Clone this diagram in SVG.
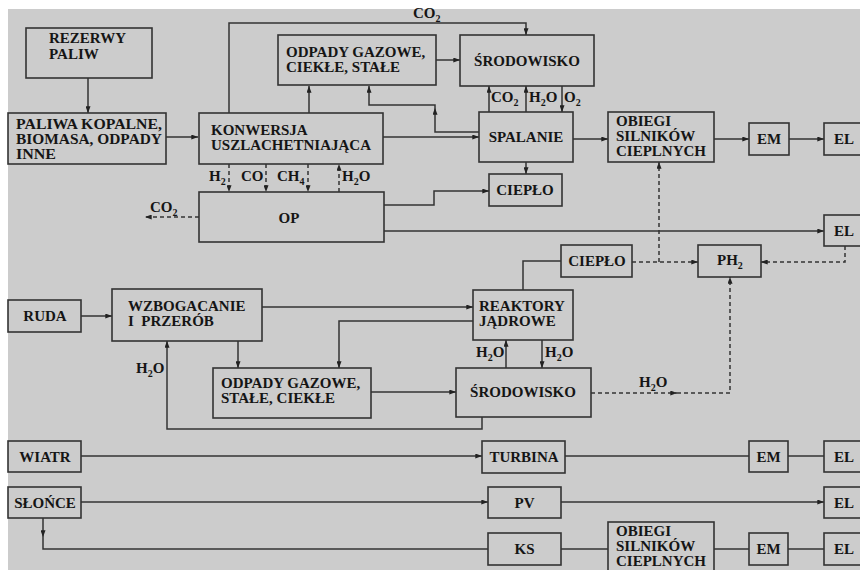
<svg xmlns="http://www.w3.org/2000/svg" width="860" height="570" viewBox="0 0 860 570">
<style>
.bx{fill:#cccccc;stroke:#333;stroke-width:1.6}
.t{font-family:"Liberation Serif","Times New Roman",serif;font-weight:bold;font-size:15px;fill:#151515}
.s{font-size:14px}
.m{text-anchor:middle}
.ln{fill:none;stroke:#333;stroke-width:1.5}
.ds{stroke-dasharray:4 3}
.a{marker-end:url(#ah)}
</style>
<defs>
<marker id="ah" viewBox="0 0 8 6" refX="8" refY="3" markerWidth="7" markerHeight="5" markerUnits="userSpaceOnUse" orient="auto">
<path d="M0,0 L8,3 L0,6 Z" fill="#222"/>
</marker>
</defs>
<rect x="0" y="0" width="860" height="570" fill="#ffffff"/>
<rect x="8" y="9" width="852" height="561" fill="#cccccc"/>

<g id="connectors">
<path class="ln a" d="M88,78 V113"/>
<path class="ln a" d="M166,137 H198"/>
<path class="ln a" d="M229,113 V23 H526 V35"/>
<path class="ln a" d="M309,113 V86"/>
<path class="ln a" d="M436,60 H460"/>
<path class="ln a" d="M383,137 H479"/>
<path class="ln a" d="M479,132 H435 V108"/>
<path class="ln a" d="M435,108 V105 H369 V86"/>
<path class="ln a" d="M489,112 V86"/>
<path class="ln a" d="M526,112 V86"/>
<path class="ln a" d="M562,86 V112"/>
<path class="ln a" d="M526,162 V174"/>
<path class="ln a" d="M573,139 H608"/>
<path class="ln a" d="M714,139 H749"/>
<path class="ln a" d="M789,139 H824"/>
<path class="ln ds a" d="M229,164 V192"/>
<path class="ln ds a" d="M266,164 V192"/>
<path class="ln ds a" d="M308,164 V192"/>
<path class="ln ds a" d="M339,192 V164"/>
<path class="ln ds a" d="M199,217 H145"/>
<path class="ln a" d="M384,205 H434 V191 H489"/>
<path class="ln a" d="M384,231 H824"/>
<path class="ln ds a" d="M632,262 H698"/>
<path class="ln ds a" d="M659,262 V162"/>
<path class="ln ds a" d="M845,246 V262 H761"/>
<path class="ln ds a" d="M591,393 H677"/>
<path class="ln ds a" d="M677,393 H730 V277"/>
<path class="ln" d="M523,290 V261 H561"/>
<path class="ln a" d="M81,316 H112"/>
<path class="ln a" d="M262,307 H473"/>
<path class="ln a" d="M238,341 V368"/>
<path class="ln a" d="M473,321 H339 V368"/>
<path class="ln a" d="M371,392 H456"/>
<path class="ln a" d="M506,368 V340"/>
<path class="ln a" d="M542,340 V368"/>
<path class="ln a" d="M482,417 V429 H167 V341"/>
<path class="ln a" d="M81,456 H482"/>
<path class="ln" d="M565,456 H749"/>
<path class="ln" d="M788,456 H824"/>
<path class="ln a" d="M81,502 H488"/>
<path class="ln a" d="M561,502 H824"/>
<path class="ln a" d="M43,518 V537"/>
<path class="ln" d="M43,537 V549 H488"/>
<path class="ln" d="M561,549 H608"/>
<path class="ln" d="M714,549 H749"/>
<path class="ln" d="M788,549 H824"/>
</g>

<g id="labels">
<text class="t" x="413" y="18">CO<tspan font-size="10" dy="4">2</tspan></text>
<text class="t" x="491" y="102">CO<tspan font-size="10" dy="4">2</tspan></text>
<text class="t" x="529" y="102">H<tspan font-size="10" dy="4">2</tspan><tspan dy="-4">O</tspan></text>
<text class="t" x="564" y="102">O<tspan font-size="10" dy="4">2</tspan></text>
<text class="t" x="209" y="181">H<tspan font-size="10" dy="4">2</tspan></text>
<text class="t" x="241" y="181">CO</text>
<text class="t" x="277" y="181">CH<tspan font-size="10" dy="4">4</tspan></text>
<text class="t" x="342" y="181">H<tspan font-size="10" dy="4">2</tspan><tspan dy="-4">O</tspan></text>
<text class="t" x="150" y="212">CO<tspan font-size="10" dy="4">2</tspan></text>
<text class="t" x="136" y="373">H<tspan font-size="10" dy="4">2</tspan><tspan dy="-4">O</tspan></text>
<text class="t" x="476" y="357">H<tspan font-size="10" dy="4">2</tspan><tspan dy="-4">O</tspan></text>
<text class="t" x="545" y="357">H<tspan font-size="10" dy="4">2</tspan><tspan dy="-4">O</tspan></text>
<text class="t" x="639" y="387">H<tspan font-size="10" dy="4">2</tspan><tspan dy="-4">O</tspan></text>
</g>

<g id="rezerwy"><rect class="bx" x="26" y="28" width="126" height="50"/><text class="t" x="49" y="43">REZERWY</text><text class="t" x="49" y="59">PALIW</text></g>
<g id="paliwa"><rect class="bx" x="8" y="113" width="158" height="51"/><text class="t s" x="16" y="129" textLength="146" lengthAdjust="spacingAndGlyphs">PALIWA KOPALNE,</text><text class="t s" x="16" y="144" textLength="146" lengthAdjust="spacingAndGlyphs">BIOMASA, ODPADY</text><text class="t s" x="16" y="159" textLength="40" lengthAdjust="spacingAndGlyphs">INNE</text></g>
<g id="konwersja"><rect class="bx" x="199" y="113" width="184" height="51"/><text class="t" x="211" y="135">KONWERSJA</text><text class="t" x="211" y="150">USZLACHETNIAJĄCA</text></g>
<g id="odpady1"><rect class="bx" x="278" y="35" width="158" height="50"/><text class="t" x="286" y="57">ODPADY GAZOWE,</text><text class="t" x="286" y="72">CIEKŁE, STAŁE</text></g>
<g id="srodowisko1"><rect class="bx" x="460" y="35" width="134" height="51"/><text class="t m" x="527" y="66">ŚRODOWISKO</text></g>
<g id="spalanie"><rect class="bx" x="479" y="112" width="94" height="50"/><text class="t m" x="526" y="142">SPALANIE</text></g>
<g id="cieplo1"><rect class="bx" x="489" y="174" width="73" height="32"/><text class="t m" x="525" y="195">CIEPŁO</text></g>
<g id="obiegi1"><rect class="bx" x="608" y="112" width="106" height="50"/><text class="t" x="616" y="126">OBIEGI</text><text class="t" x="616" y="141">SILNIKÓW</text><text class="t" x="616" y="156">CIEPLNYCH</text></g>
<g id="em1"><rect class="bx" x="749" y="123" width="40" height="32"/><text class="t m" x="769" y="144">EM</text></g>
<g id="el1"><rect class="bx" x="824" y="123" width="44" height="32"/><text class="t" x="834" y="144">EL</text></g>
<g id="op"><rect class="bx" x="199" y="192" width="185" height="50"/><text class="t m" x="289" y="223">OP</text></g>
<g id="el2"><rect class="bx" x="824" y="215" width="44" height="31"/><text class="t" x="834" y="236">EL</text></g>
<g id="cieplo2"><rect class="bx" x="561" y="245" width="71" height="32"/><text class="t m" x="597" y="266">CIEPŁO</text></g>
<g id="ph2"><rect class="bx" x="698" y="245" width="63" height="32"/><text class="t" x="717" y="265">PH<tspan font-size="10" dy="4">2</tspan></text></g>
<g id="ruda"><rect class="bx" x="8" y="300" width="73" height="32"/><text class="t m" x="45" y="321">RUDA</text></g>
<g id="wzbogacanie"><rect class="bx" x="112" y="289" width="150" height="52"/><text class="t" x="128" y="311">WZBOGACANIE</text><text class="t" x="128" y="326" xml:space="preserve">I  PRZERÓB</text></g>
<g id="reaktory"><rect class="bx" x="473" y="290" width="100" height="50"/><text class="t" x="479" y="311">REAKTORY</text><text class="t" x="479" y="326">JĄDROWE</text></g>
<g id="odpady2"><rect class="bx" x="213" y="368" width="158" height="50"/><text class="t" x="221" y="388">ODPADY GAZOWE,</text><text class="t" x="221" y="403">STAŁE, CIEKŁE</text></g>
<g id="srodowisko2"><rect class="bx" x="456" y="368" width="135" height="49"/><text class="t m" x="523" y="397">ŚRODOWISKO</text></g>
<g id="wiatr"><rect class="bx" x="8" y="441" width="73" height="31"/><text class="t m" x="45" y="462">WIATR</text></g>
<g id="turbina"><rect class="bx" x="482" y="441" width="83" height="32"/><text class="t m" x="524" y="462">TURBINA</text></g>
<g id="em2"><rect class="bx" x="749" y="441" width="39" height="31"/><text class="t m" x="768.5" y="462">EM</text></g>
<g id="el3"><rect class="bx" x="824" y="441" width="44" height="31"/><text class="t" x="834" y="462">EL</text></g>
<g id="slonce"><rect class="bx" x="8" y="487" width="73" height="31"/><text class="t m" x="45" y="508">SŁOŃCE</text></g>
<g id="pv"><rect class="bx" x="488" y="487" width="73" height="31"/><text class="t m" x="524.5" y="508">PV</text></g>
<g id="el4"><rect class="bx" x="824" y="487" width="44" height="31"/><text class="t" x="834" y="508">EL</text></g>
<g id="ks"><rect class="bx" x="488" y="533" width="73" height="32"/><text class="t m" x="524.5" y="554">KS</text></g>
<g id="obiegi2"><rect class="bx" x="608" y="522" width="106" height="52"/><text class="t" x="616" y="536">OBIEGI</text><text class="t" x="616" y="551">SILNIKÓW</text><text class="t" x="616" y="566">CIEPLNYCH</text></g>
<g id="em3"><rect class="bx" x="749" y="533" width="39" height="32"/><text class="t m" x="768.5" y="554">EM</text></g>
<g id="el5"><rect class="bx" x="824" y="533" width="44" height="32"/><text class="t" x="834" y="554">EL</text></g>
</svg>
